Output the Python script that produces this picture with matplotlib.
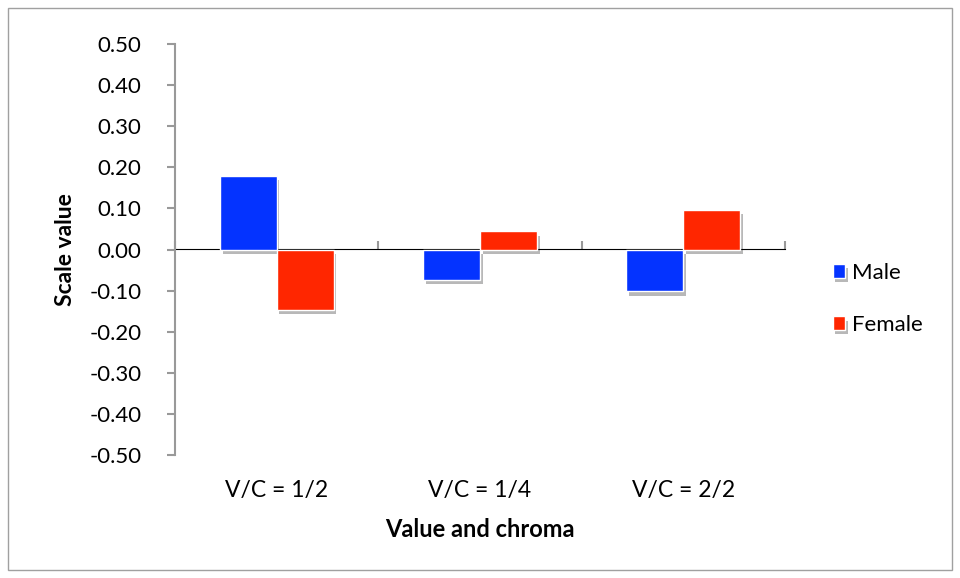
import matplotlib
matplotlib.use('Agg')
import matplotlib.pyplot as plt
import matplotlib.patheffects as pe
from matplotlib.patches import Rectangle
import numpy as np

# data
categories = ['V/C = 1/2', 'V/C = 1/4', 'V/C = 2/2']
male = [0.18, -0.075, -0.102]
female = [-0.147, 0.044, 0.097]
yticks = [-0.5, -0.4, -0.3, -0.2, -0.1, 0.0, 0.1, 0.2, 0.3, 0.4, 0.5]

plt.rcParams['font.family'] = ['Lato', 'DejaVu Sans']

fig = plt.figure(figsize=(9.6, 5.78), dpi=100)
ax = fig.add_axes([175/960, 1-455/578, 610/960, 411/578])

# outer chart border
fig.patches.append(Rectangle((8/960, 8/578), 944/960, 562/578, transform=fig.transFigure,
                             fill=False, edgecolor='#a0a0a0', linewidth=1))

x = np.arange(len(categories))
w = 0.28
shadow = [pe.SimplePatchShadow(offset=(2, -3), shadow_rgbFace='black', alpha=0.28), pe.Normal()]
ax.bar(x - w/2, male, w, color='#0433ff', edgecolor='white', linewidth=1, label='Male',
       path_effects=shadow, zorder=3)
ax.bar(x + w/2, female, w, color='#ff2600', edgecolor='white', linewidth=1, label='Female',
       path_effects=shadow, zorder=3)

ax.set_xlim(-0.5, 2.5)
ax.set_ylim(-0.5, 0.5)
ax.set_yticks(yticks)
ax.set_yticklabels(['%.2f' % v for v in yticks], fontsize=16)
ax.set_xticks(x)
ax.set_xticklabels(categories, fontsize=16.5)
ax.tick_params(axis='x', length=0, pad=18)
ax.tick_params(axis='y', length=6, color='#999999', width=1.5, pad=18)

for s in ['top', 'right', 'bottom']:
    ax.spines[s].set_visible(False)
ax.spines['left'].set_color('#999999')
ax.spines['left'].set_linewidth(1.5)

# zero line with category boundary ticks
sec = ax.secondary_xaxis(0.5)
sec.set_xticks([-0.5, 0.5, 1.5, 2.5])
sec.set_xticklabels([])
sec.tick_params(length=6, color='#999999', width=1.5)
sec.spines['bottom'].set_color('#999999')
sec.spines['bottom'].set_linewidth(1.5)

ax.set_ylabel('Scale value', fontsize=16.5, fontweight='bold', labelpad=10)
ax.set_xlabel('Value and chroma', fontsize=17, fontweight='bold', labelpad=12)

ax.legend(loc='center left', bbox_to_anchor=(1.06, 0.38), frameon=False, fontsize=16,
          borderpad=0, handlelength=0.55, handleheight=0.55, handletextpad=0.3,
          labelspacing=1.45)

fig.savefig('out.png', dpi=100)
